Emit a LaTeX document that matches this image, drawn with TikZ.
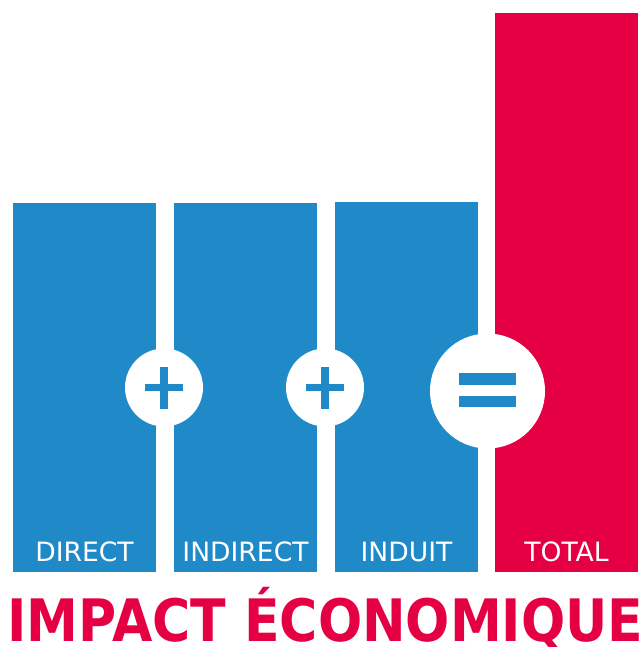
\documentclass[tikz,border=0pt]{standalone}
\usepackage{fontspec}
\setmainfont{DejaVu Sans}
\newfontfamily\titlefont{DejaVu Sans}[FakeStretch=0.89]
\definecolor{barblue}{HTML}{2089C8}
\definecolor{barred}{HTML}{E40043}
\begin{document}
\begin{tikzpicture}[x=1pt,y=-1pt,
  bar/.style={draw=none,inner sep=0pt,outer sep=0pt,anchor=north west,minimum width=143pt},
  lbl/.style={text=white,inner sep=0pt,anchor=base,font=\fontsize{26.6}{30}\selectfont},
  opcircle/.style={circle,fill=white,draw=none,inner sep=0pt},
  sign/.style={fill=barblue,draw=none,inner sep=0pt}]
\useasboundingbox (0,0) rectangle (644,647);
\node[bar,fill=barblue,minimum height=369pt] (b1) at (13,203) {};
\node[bar,fill=barblue,minimum height=369pt] (b2) at (174,203) {};
\node[bar,fill=barblue,minimum height=370pt] (b3) at (335,202) {};
\node[bar,fill=barred,minimum height=559pt] (b4) at (495,13) {};
\node[lbl] (l1) at (84.5,561) {DIRECT};
\node[lbl] (l2) at (245.5,561) {INDIRECT};
\node[lbl] (l3) at (406.5,561) {INDUIT};
\node[lbl] (l4) at (566.5,561) {TOTAL};
\node[opcircle,minimum size=78pt] (c1) at (164,387.5) {};
\node[opcircle,minimum size=78pt] (c2) at (325,387.5) {};
\node[opcircle,minimum size=115pt] (c3) at (487.5,391) {};
% plus signs
\node[sign,minimum width=38pt,minimum height=7.5pt] (p1h) at (c1) {};
\node[sign,minimum width=7.5pt,minimum height=42pt] (p1v) at (c1) {};
\node[sign,minimum width=38pt,minimum height=7.5pt] (p2h) at (c2) {};
\node[sign,minimum width=7.5pt,minimum height=42pt] (p2v) at (c2) {};
% equal sign
\node[sign,minimum width=57pt,minimum height=11.5pt] (e1) at (487.5,379.2) {};
\node[sign,minimum width=57pt,minimum height=11.5pt] (e2) at (487.5,401.5) {};
\node[inner sep=0pt,anchor=base,text=barred,font=\titlefont\bfseries\fontsize{58.5}{64}\selectfont] (title) at (325.5,641) {IMPACT ÉCONOMIQUE};
\end{tikzpicture}
\end{document}
